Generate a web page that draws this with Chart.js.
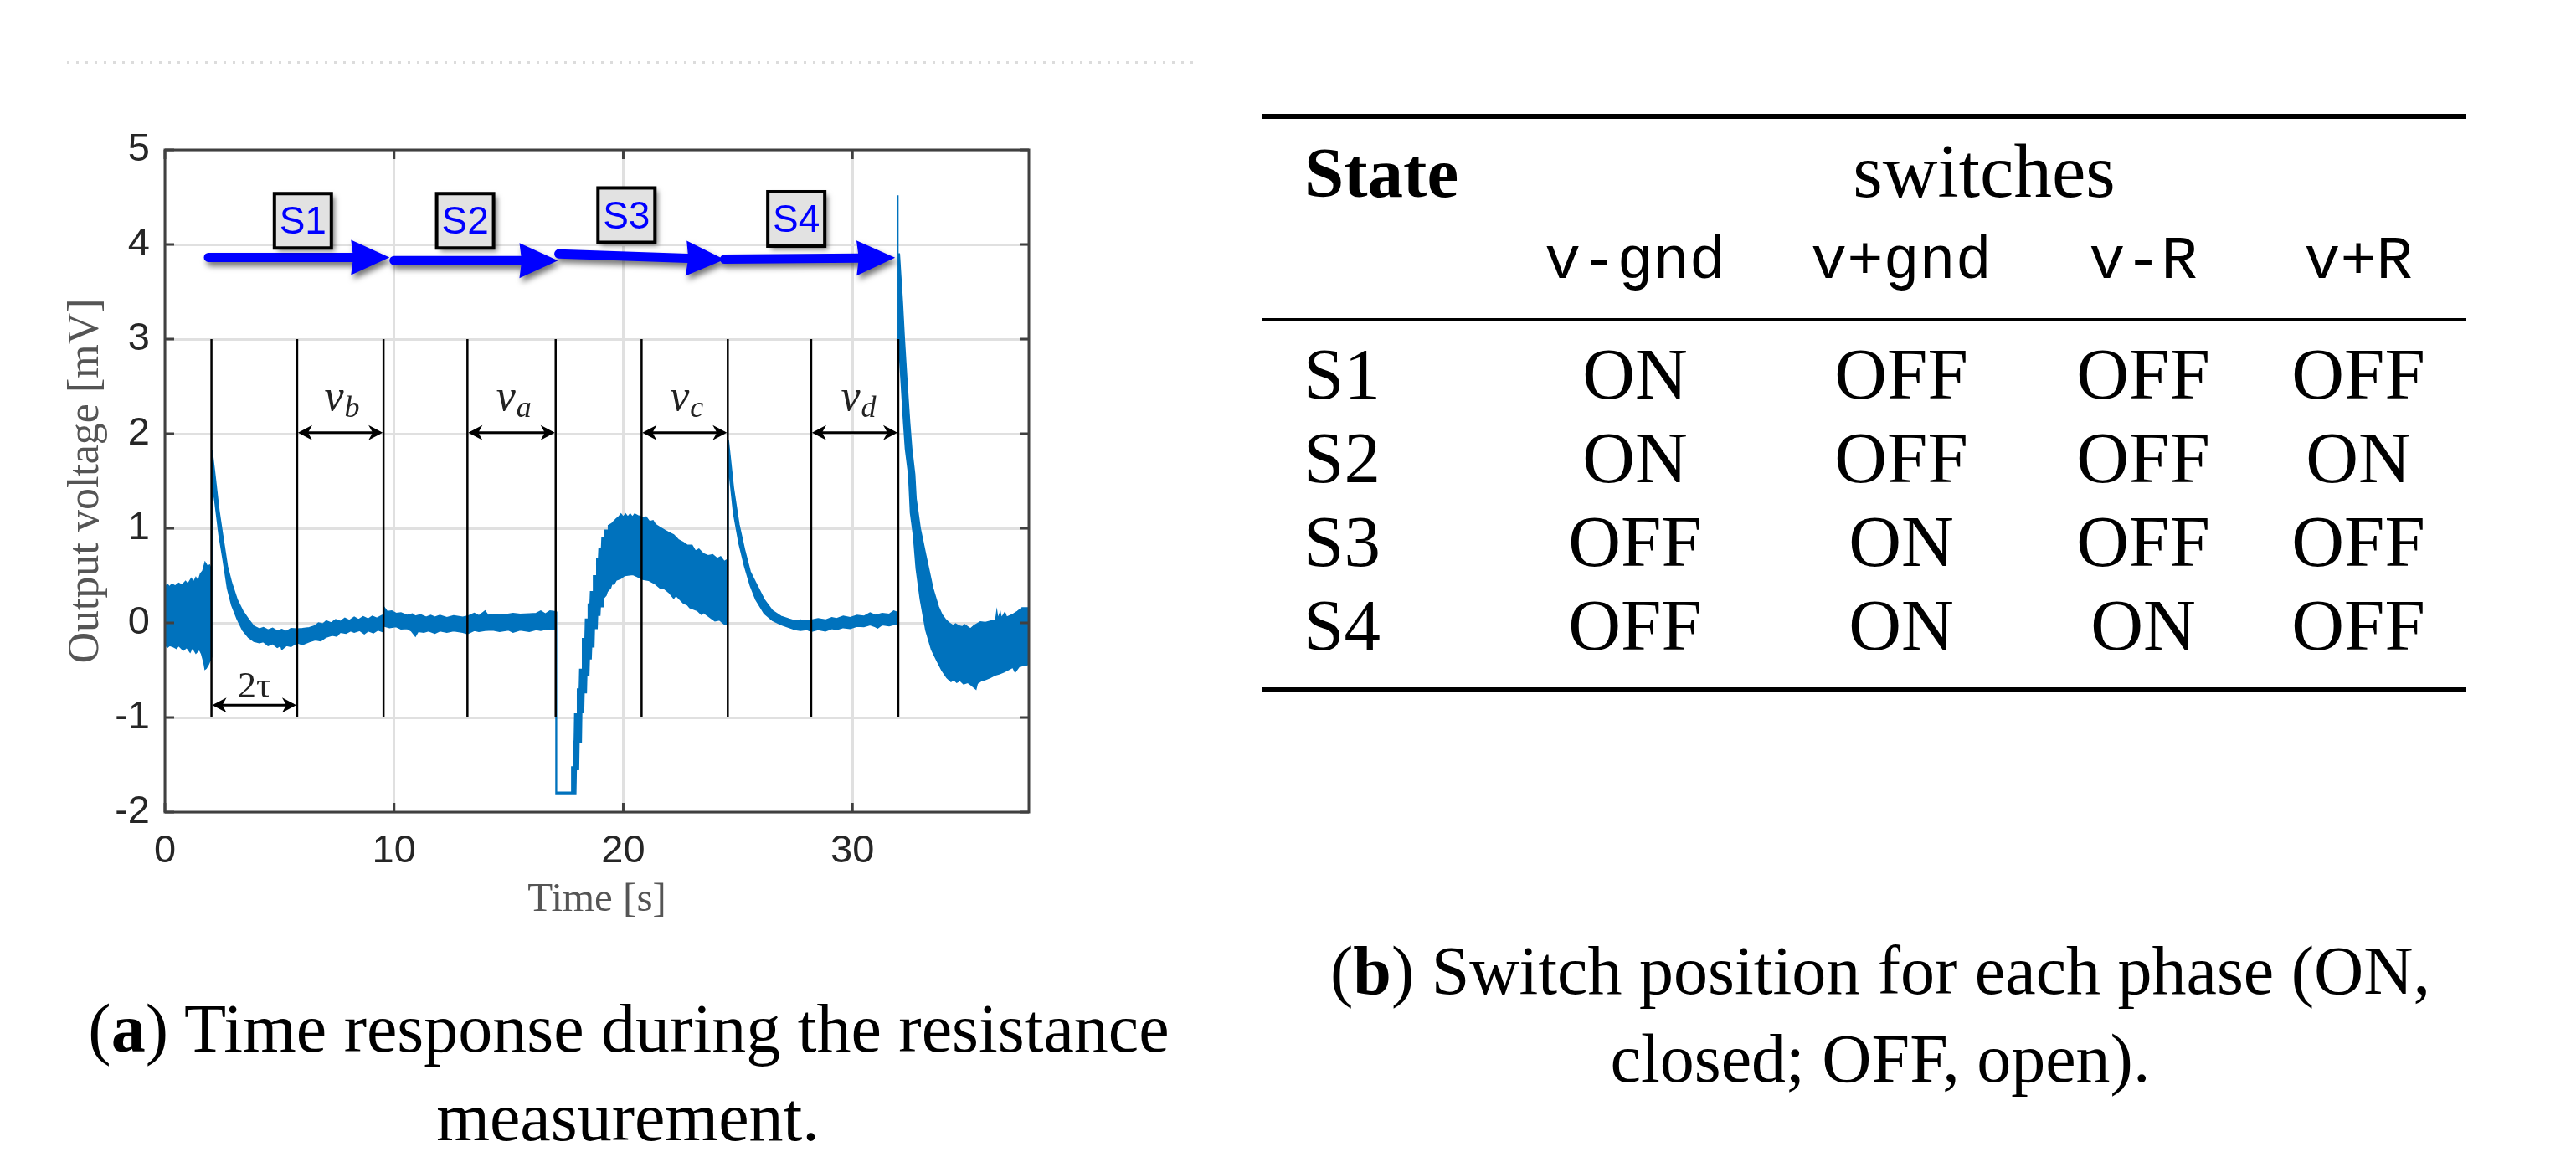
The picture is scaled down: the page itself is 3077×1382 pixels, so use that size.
<!DOCTYPE html>
<html>
<head>
<meta charset="utf-8">
<title>Resistance measurement</title>
<script src="https://cdn.jsdelivr.net/npm/chart.js@4"></script>
<style>
  html, body { margin: 0; padding: 0; background: #fff; overflow: hidden; }
  #page { position: relative; width: 3077px; height: 1382px; }
  canvas { position: absolute; left: 0; top: 0; }
  .txt { position: absolute; white-space: pre; line-height: 1em; color: #000; font-family: "Liberation Serif", serif; }
  .rule { position: absolute; left: 1507px; width: 1439px; background: #000; }
  #dots { position: absolute; left: 80px; top: 73px; width: 1352px; height: 4px;
    background: repeating-linear-gradient(90deg, #dcdcdc 0 3px, #fff 3px 11px); }
</style>
</head>
<body>
<div id="page">
  <canvas id="chart" width="3077" height="1382"></canvas>
  <div id="dots"></div>
</div>
<script>
// waveform envelope, [time s, voltage mV]
const upperEdge = [
  [0, 0.36], [0.1, 0.41], [0.2, 0.38], [0.3, 0.41], [0.45, 0.39], [0.6, 0.42], [0.75, 0.40], [0.9, 0.44], [1.0, 0.41], [1.15, 0.47],
  [1.25, 0.43], [1.35, 0.48], [1.45, 0.44], [1.55, 0.52], [1.65, 0.55], [1.75, 0.64], [1.85, 0.60], [1.95, 0.61], [2.04, 0.56],
  [2.056, 1.825], [2.18, 1.574], [2.36, 1.19], [2.54, 0.896], [2.725, 0.6], [2.91, 0.424], [3.15, 0.247], [3.39, 0.129], [3.64, 0.04], [3.88, -0.034], [4.12, -0.063],
  [4.3, -0.05], [4.5, -0.075], [4.7, -0.055], [4.9, -0.085], [5.1, -0.07], [5.3, -0.09], [5.5, -0.06], [5.77, -0.065], [6.0, -0.06], [6.3, -0.05],
  [6.55, -0.03], [6.7, 0.0], [6.9, -0.01], [7.04, 0.02], [7.25, 0.0], [7.45, 0.035], [7.65, 0.015], [7.85, 0.05], [8.05, 0.025], [8.26, 0.06],
  [8.45, 0.035], [8.65, 0.065], [8.87, 0.04], [9.05, 0.07], [9.25, 0.05], [9.48, 0.08], [9.52, 0.08], [9.55, 0.17], [9.7, 0.12], [9.9, 0.125],
  [10.09, 0.10], [10.3, 0.105], [10.57, 0.08], [10.8, 0.095], [10.93, 0.07], [11.15, 0.085], [11.4, 0.06], [11.6, 0.08], [11.78, 0.06], [12.0, 0.08],
  [12.3, 0.055], [12.6, 0.075], [13.0, 0.06], [13.2, 0.07], [13.5, 0.10], [13.7, 0.075], [13.97, 0.125], [14.1, 0.08], [14.4, 0.09], [14.8, 0.085],
  [15.19, 0.10], [15.5, 0.09], [15.9, 0.095], [16.2, 0.10], [16.4, 0.125], [16.6, 0.095], [16.8, 0.125], [16.99, 0.12], [17.06, 0.12],
  [17.09, -1.79], [17.72, -1.79], [17.75, -1.523], [17.8, -1.523], [17.82, -1.25], [17.86, -1.25], [17.88, -0.963], [17.98, -0.963], [18.0, -0.7], [18.08, -0.7],
  [18.1, -0.491], [18.2, -0.491], [18.22, -0.166], [18.33, -0.166], [18.35, 0.04], [18.45, 0.04], [18.47, 0.2], [18.55, 0.2], [18.57, 0.33], [18.68, 0.33],
  [18.7, 0.497], [18.82, 0.497], [18.84, 0.68], [18.92, 0.68], [18.94, 0.79], [19.05, 0.79], [19.07, 0.9], [19.18, 0.9], [19.2, 0.98], [19.33, 0.98],
  [19.35, 1.03], [19.5, 1.05], [19.69, 1.1], [19.8, 1.12], [19.9, 1.15], [20.0, 1.12], [20.1, 1.15], [20.2, 1.12], [20.3, 1.15], [20.4, 1.12],
  [20.5, 1.15], [20.67, 1.13], [20.85, 1.115], [21.0, 1.12], [21.15, 1.07], [21.3, 1.08], [21.4, 1.04], [21.6, 1.01], [21.8, 0.98], [22.0, 0.955],
  [22.2, 0.93], [22.4, 0.88], [22.62, 0.85], [22.8, 0.82], [23.0, 0.82], [23.15, 0.76], [23.3, 0.78], [23.5, 0.73], [23.7, 0.71], [23.9, 0.72],
  [24.1, 0.68], [24.25, 0.70], [24.4, 0.65], [24.56, 0.67],
  [24.59, 1.928], [24.81, 1.427], [25.05, 1.043], [25.29, 0.778], [25.54, 0.542], [25.78, 0.424], [26.15, 0.247], [26.51, 0.129], [26.88, 0.07], [27.24, 0.04],
  [27.5, 0.02], [27.73, 0.03], [28.0, 0.02], [28.2, 0.03], [28.5, 0.045], [28.82, 0.03], [29.1, 0.055], [29.31, 0.045], [29.6, 0.07], [29.9, 0.055],
  [30.2, 0.08], [30.5, 0.07], [30.77, 0.105], [31.0, 0.08], [31.3, 0.10], [31.6, 0.09], [31.8, 0.125], [31.96, 0.11],
  [31.97, 3.9], [31.975, 4.52], [31.985, 4.52], [32.0, 3.9], [32.05, 3.9], [32.18, 3.4], [32.27, 2.99], [32.39, 2.52], [32.5, 2.12], [32.59, 1.84],
  [32.72, 1.57], [32.78, 1.31], [32.96, 0.999], [33.2, 0.718], [33.51, 0.365], [33.75, 0.173], [33.9, 0.09], [34.05, 0.04], [34.24, -0.004], [34.4, -0.03],
  [34.5, -0.01], [34.66, -0.034], [34.8, -0.04], [34.9, -0.02], [35.15, -0.063], [35.3, -0.03], [35.58, 0.011], [35.8, 0.005], [36.12, 0.025], [36.25, 0.03],
  [36.3, 0.12], [36.35, 0.04], [36.45, 0.11], [36.5, 0.05], [36.65, 0.11], [36.73, 0.06], [37.0, 0.09], [37.2, 0.12], [37.4, 0.16], [37.7, 0.16],
];
const lowerEdge = [
  [0, -0.22], [0.1, -0.26], [0.2, -0.24], [0.35, -0.25], [0.5, -0.27], [0.6, -0.24], [0.8, -0.29], [0.95, -0.26], [1.1, -0.31], [1.2, -0.26],
  [1.35, -0.32], [1.5, -0.28], [1.6, -0.33], [1.7, -0.42], [1.75, -0.49], [1.8, -0.48], [1.9, -0.44], [2.04, -0.36],
  [2.056, 1.485], [2.18, 1.279], [2.36, 0.925], [2.54, 0.66], [2.725, 0.365], [2.91, 0.188], [3.15, 0.04], [3.39, -0.078], [3.64, -0.152], [3.88, -0.196], [4.12, -0.21],
  [4.3, -0.2], [4.5, -0.24], [4.7, -0.22], [4.9, -0.26], [5.05, -0.24], [5.1, -0.28], [5.3, -0.24], [5.5, -0.25], [5.77, -0.21], [6.0, -0.23],
  [6.3, -0.20], [6.56, -0.18], [6.8, -0.19], [7.04, -0.15], [7.3, -0.13], [7.5, -0.14], [7.65, -0.10], [7.9, -0.11], [8.1, -0.085], [8.26, -0.10],
  [8.5, -0.08], [8.7, -0.115], [8.87, -0.085], [9.1, -0.105], [9.3, -0.075], [9.48, -0.09], [9.55, -0.034], [9.8, -0.05], [10.09, -0.04], [10.3, -0.065],
  [10.57, -0.06], [10.75, -0.085], [10.93, -0.14], [11.05, -0.09], [11.3, -0.10], [11.5, -0.085], [11.78, -0.11], [12.0, -0.085], [12.3, -0.10], [12.6, -0.085],
  [13.0, -0.10], [13.2, -0.115], [13.5, -0.08], [13.7, -0.09], [13.97, -0.08], [14.3, -0.075], [14.6, -0.09], [15.0, -0.075], [15.19, -0.10], [15.5, -0.075],
  [15.9, -0.09], [16.2, -0.07], [16.4, -0.08], [16.7, -0.065], [16.99, -0.07], [17.06, -0.06],
  [17.08, -1.815], [17.93, -1.815], [17.95, -1.55], [18.05, -1.55], [18.07, -1.26], [18.17, -1.26], [18.19, -0.95], [18.27, -0.95], [18.29, -0.74], [18.39, -0.74],
  [18.41, -0.55], [18.5, -0.55], [18.52, -0.38], [18.6, -0.38], [18.62, -0.255], [18.72, -0.255], [18.74, -0.06], [18.86, -0.06], [18.88, 0.08], [18.98, 0.08],
  [19.0, 0.17], [19.12, 0.17], [19.14, 0.26], [19.25, 0.29], [19.3, 0.33], [19.45, 0.37], [19.5, 0.41], [19.6, 0.41], [19.69, 0.45], [19.9, 0.47],
  [20.06, 0.5], [20.42, 0.51], [20.6, 0.49], [20.85, 0.46], [21.1, 0.45], [21.4, 0.41], [21.6, 0.37], [21.8, 0.36], [22.0, 0.32], [22.2, 0.26],
  [22.3, 0.29], [22.62, 0.21], [22.8, 0.19], [22.9, 0.16], [23.23, 0.13], [23.4, 0.09], [23.5, 0.11], [23.83, 0.05], [24.0, 0.02], [24.2, 0.03],
  [24.4, -0.01], [24.56, -0.01],
  [24.59, 1.663], [24.81, 1.161], [25.05, 0.837], [25.29, 0.6], [25.54, 0.394], [25.78, 0.247], [26.15, 0.1], [26.51, 0.025], [26.88, -0.019], [27.24, -0.048],
  [27.5, -0.07], [27.73, -0.08], [28.0, -0.07], [28.2, -0.09], [28.5, -0.07], [28.82, -0.085], [29.1, -0.06], [29.31, -0.07], [29.6, -0.05], [29.9, -0.06],
  [30.2, -0.035], [30.5, -0.04], [30.77, -0.02], [31.0, -0.04], [31.1, -0.055], [31.3, -0.02], [31.6, -0.03], [31.93, -0.01], [31.96, -0.004],
  [31.97, 3.0], [32.01, 2.99], [32.13, 2.52], [32.23, 2.12], [32.31, 1.84], [32.45, 1.57], [32.53, 1.161], [32.66, 0.925], [32.78, 0.571], [32.96, 0.247],
  [33.2, -0.078], [33.45, -0.284], [33.69, -0.402], [33.9, -0.5], [34.12, -0.58], [34.3, -0.62], [34.42, -0.6], [34.55, -0.63], [34.7, -0.61], [34.85, -0.645],
  [35.03, -0.63], [35.2, -0.66], [35.39, -0.70], [35.45, -0.64], [35.64, -0.61], [35.8, -0.6], [36.0, -0.58], [36.24, -0.55], [36.4, -0.54], [36.6, -0.52],
  [36.85, -0.49], [37.0, -0.47], [37.1, -0.52], [37.28, -0.46], [37.5, -0.45], [37.7, -0.44],
];

// vertical markers and the spans between them
const markerTimes = [2.03, 5.77, 9.54, 13.2, 17.05, 20.8, 24.56, 28.2, 32.0];
const markerTop = 3;
const markerBottom = -1;
const spanStart = [5.77, 13.2, 20.8, 28.2, 2.03];
const spanEnd = [9.54, 17.05, 24.56, 32.0, 5.77];
const spanLevel = [2.01, 2.01, 2.01, 2.01, -0.87];
const spanName = ['v', 'v', 'v', 'v', '2τ'];
const spanSub = ['b', 'a', 'c', 'd', ''];
const spanLabelT = [6.96, 14.46, 22.04, 29.5, 3.18];
const spanLabelV = [2.25, 2.25, 2.25, 2.25, -0.79];

// phase arrows and the boxes above them
const phaseNames = ['S1', 'S2', 'S3', 'S4'];
const phaseBoxT = [6.02, 13.1, 20.14, 27.55];
const phaseBoxV = [4.25, 4.25, 4.31, 4.27];
const arrowT0 = [1.9, 10.0, 17.19, 24.42];
const arrowV0 = [3.863, 3.83, 3.9, 3.845];
const arrowT1 = [9.8, 17.15, 24.42, 31.86];
const arrowV1 = [3.863, 3.83, 3.84, 3.86];

const xTickValues = [0, 10, 20, 30];
const yTickValues = [-2, -1, 0, 1, 2, 3, 4, 5];

// table on the right
const stateNames = ['S1', 'S2', 'S3', 'S4'];
const switchNames = ['v-gnd', 'v+gnd', 'v-R', 'v+R'];
const switchGnd1 = ['ON', 'ON', 'OFF', 'OFF'];
const switchGnd2 = ['OFF', 'OFF', 'ON', 'ON'];
const switchR1 = ['OFF', 'OFF', 'OFF', 'ON'];
const switchR2 = ['OFF', 'ON', 'OFF', 'OFF'];

const waveShape = upperEdge.concat(lowerEdge.slice().reverse()).map(p => ({ x: p[0], y: p[1] }));

const markerLines = [];
markerTimes.forEach(t => {
  markerLines.push({ x: t, y: markerBottom }, { x: t, y: markerTop }, { x: t, y: null });
});

function doubleHead(ctx, x, y, dir) {
  ctx.beginPath();
  ctx.moveTo(x, y);
  ctx.lineTo(x + dir * 17, y - 9);
  ctx.lineTo(x + dir * 12, y);
  ctx.lineTo(x + dir * 17, y + 9);
  ctx.closePath();
  ctx.fill();
}

// everything that sits on the axes but is not a plain line series
const overlayPlugin = {
  id: 'overlay',
  afterDatasetsDraw(chart) {
    const { ctx, chartArea: area, scales: { x, y } } = chart;
    ctx.save();

    // axes box with inward ticks
    ctx.strokeStyle = '#404040';
    ctx.lineWidth = 3;
    ctx.strokeRect(area.left, area.top, area.right - area.left, area.bottom - area.top);
    ctx.beginPath();
    xTickValues.forEach(v => {
      const px = x.getPixelForValue(v);
      ctx.moveTo(px, area.bottom); ctx.lineTo(px, area.bottom - 11);
      ctx.moveTo(px, area.top); ctx.lineTo(px, area.top + 11);
    });
    yTickValues.forEach(v => {
      const py = y.getPixelForValue(v);
      ctx.moveTo(area.left, py); ctx.lineTo(area.left + 11, py);
      ctx.moveTo(area.right, py); ctx.lineTo(area.right - 11, py);
    });
    ctx.stroke();

    // spans with arrowheads at both ends
    ctx.strokeStyle = '#000';
    ctx.fillStyle = '#000';
    spanStart.forEach((t, i) => {
      const x0 = x.getPixelForValue(t);
      const x1 = x.getPixelForValue(spanEnd[i]);
      const py = y.getPixelForValue(spanLevel[i]);
      ctx.beginPath();
      ctx.moveTo(x0 + 4, py); ctx.lineTo(x1 - 4, py);
      ctx.stroke();
      doubleHead(ctx, x0 + 1, py, 1);
      doubleHead(ctx, x1 - 1, py, -1);

      const lx = x.getPixelForValue(spanLabelT[i]);
      const ly = y.getPixelForValue(spanLabelV[i]);
      ctx.textAlign = 'left';
      ctx.textBaseline = 'alphabetic';
      ctx.fillStyle = '#222';
      if (spanSub[i]) {
        ctx.font = 'italic 52px "Liberation Serif"';
        ctx.fillText(spanName[i], lx, ly);
        ctx.font = 'italic 36px "Liberation Serif"';
        ctx.fillText(spanSub[i], lx + 24, ly + 8);
      } else {
        ctx.font = '44px "Liberation Serif"';
        ctx.fillText(spanName[i], lx, ly);
      }
      ctx.fillStyle = '#000';
    });

    // blue phase arrows
    arrowT0.forEach((t, i) => {
      const x0 = x.getPixelForValue(t);
      const y0 = y.getPixelForValue(arrowV0[i]);
      const x1 = x.getPixelForValue(arrowT1[i]);
      const y1 = y.getPixelForValue(arrowV1[i]);
      const a = Math.atan2(y1 - y0, x1 - x0);
      ctx.save();
      ctx.shadowColor = 'rgba(0,0,0,0.55)';
      ctx.shadowBlur = 7;
      ctx.shadowOffsetX = 3;
      ctx.shadowOffsetY = 5;
      ctx.translate(x0, y0);
      ctx.rotate(a);
      const len = Math.hypot(x1 - x0, y1 - y0);
      ctx.fillStyle = '#0000ff';
      ctx.beginPath();
      ctx.moveTo(0, -5.5);
      ctx.lineTo(len - 44, -5.5);
      ctx.lineTo(len - 46, -21);
      ctx.lineTo(len, 0);
      ctx.lineTo(len - 46, 21);
      ctx.lineTo(len - 44, 5.5);
      ctx.lineTo(0, 5.5);
      ctx.arc(0, 0, 5.5, Math.PI / 2, -Math.PI / 2);
      ctx.closePath();
      ctx.fill();
      ctx.restore();
    });

    // phase boxes
    phaseNames.forEach((name, i) => {
      const cx = x.getPixelForValue(phaseBoxT[i]);
      const cy = y.getPixelForValue(phaseBoxV[i]);
      const bw = 68;
      const bh = 65;
      ctx.save();
      ctx.shadowColor = 'rgba(0,0,0,0.5)';
      ctx.shadowBlur = 6;
      ctx.shadowOffsetX = 4;
      ctx.shadowOffsetY = 4;
      ctx.fillStyle = '#e2e2e2';
      ctx.fillRect(cx - bw / 2, cy - bh / 2, bw, bh);
      ctx.restore();
      ctx.strokeStyle = '#000';
      ctx.lineWidth = 4;
      ctx.strokeRect(cx - bw / 2, cy - bh / 2, bw, bh);
      ctx.fillStyle = '#0000ff';
      ctx.font = '46px "Liberation Sans"';
      ctx.textAlign = 'center';
      ctx.textBaseline = 'middle';
      ctx.fillText(name, cx, cy + 3);
    });
    ctx.restore();
  }
};

new Chart(document.getElementById('chart'), {
  type: 'scatter',
  data: {
    datasets: [
      {
        label: 'markers',
        data: markerLines,
        showLine: true,
        spanGaps: false,
        borderColor: '#000',
        borderWidth: 2.5,
        pointRadius: 0,
      },
      {
        label: 'Output voltage',
        data: waveShape,
        showLine: true,
        fill: 'shape',
        tension: 0,
        backgroundColor: '#0072BD',
        borderColor: '#0072BD',
        borderWidth: 1.5,
        pointRadius: 0,
      },
    ],
  },
  options: {
    responsive: false,
    animation: false,
    devicePixelRatio: 1,
    layout: { padding: { left: 0, top: 179, right: 1848, bottom: 0 } },
    plugins: {
      legend: { display: false },
      tooltip: { enabled: false },
    },
    scales: {
      x: {
        type: 'linear',
        min: 0,
        max: 37.7,
        afterBuildTicks: axis => { axis.ticks = xTickValues.map(v => ({ value: v })); },
        afterFit: axis => { axis.height = 412; },
        grid: { color: '#e0e0e0', lineWidth: 3, drawTicks: false },
        border: { display: false },
        ticks: {
          padding: 19,
          maxRotation: 0,
          color: '#262626',
          font: { family: 'Liberation Sans', size: 47 },
          callback: v => String(v),
        },
        title: {
          display: true,
          text: 'Time [s]',
          color: '#555',
          font: { family: 'Liberation Serif', size: 49 },
          padding: { top: 0, bottom: 277 },
        },
      },
      y: {
        type: 'linear',
        min: -2,
        max: 5,
        afterBuildTicks: axis => { axis.ticks = yTickValues.map(v => ({ value: v })); },
        afterFit: axis => { axis.width = 197; },
        grid: { color: '#e0e0e0', lineWidth: 3, drawTicks: false },
        border: { display: false },
        ticks: {
          padding: 18,
          color: '#262626',
          font: { family: 'Liberation Sans', size: 47 },
          callback: v => String(v),
        },
        title: {
          display: true,
          text: 'Output voltage [mV]',
          color: '#555',
          font: { family: 'Liberation Serif', size: 52 },
          padding: { top: 72, bottom: 0 },
        },
      },
    },
  },
  plugins: [overlayPlugin],
});

// the table and the captions are plain text placed by baseline
const page = document.getElementById('page');

function put(parts, x, baseline, size, align, family) {
  const el = document.createElement('div');
  el.className = 'txt';
  el.style.fontSize = size + 'px';
  if (family) el.style.fontFamily = family;
  parts.forEach(p => {
    const s = document.createElement('span');
    s.textContent = p.text;
    if (p.bold) s.style.fontWeight = 'bold';
    el.appendChild(s);
  });
  el.style.left = x + 'px';
  const mono = family && family.indexOf('Mono') >= 0;
  el.style.top = (baseline - (mono ? 0.79 : 0.8375) * size) + 'px';
  if (align === 'center') el.style.transform = 'translateX(-50%)';
  page.appendChild(el);
  return el;
}

function rule(top, height) {
  const el = document.createElement('div');
  el.className = 'rule';
  el.style.top = top + 'px';
  el.style.height = height + 'px';
  page.appendChild(el);
}

rule(136, 6);
rule(380, 4);
rule(821, 6);

put([{ text: 'State', bold: true }], 1558, 235, 85);
put([{ text: 'switches' }], 2370, 235, 91, 'center');

const columnX = [1953, 2271, 2560, 2817];
const rowBaseline = [476, 576, 676, 776];
switchNames.forEach((name, c) => {
  put([{ text: name }], columnX[c], 334, 72, 'center', '"Liberation Mono", monospace');
});
stateNames.forEach((name, r) => {
  put([{ text: name }], 1557, rowBaseline[r], 87);
  [switchGnd1, switchGnd2, switchR1, switchR2].forEach((col, c) => {
    put([{ text: col[r] }], columnX[c], rowBaseline[r], 87, 'center');
  });
});

put([{ text: '(' }, { text: 'a', bold: true }, { text: ') Time response during the resistance' }], 751, 1257, 82, 'center');
put([{ text: 'measurement.' }], 750, 1363, 82, 'center');
put([{ text: '(' }, { text: 'b', bold: true }, { text: ') Switch position for each phase (ON,' }], 2246, 1188, 82, 'center');
put([{ text: 'closed; OFF, open).' }], 2246, 1293, 82, 'center');
</script>
</body>
</html>
